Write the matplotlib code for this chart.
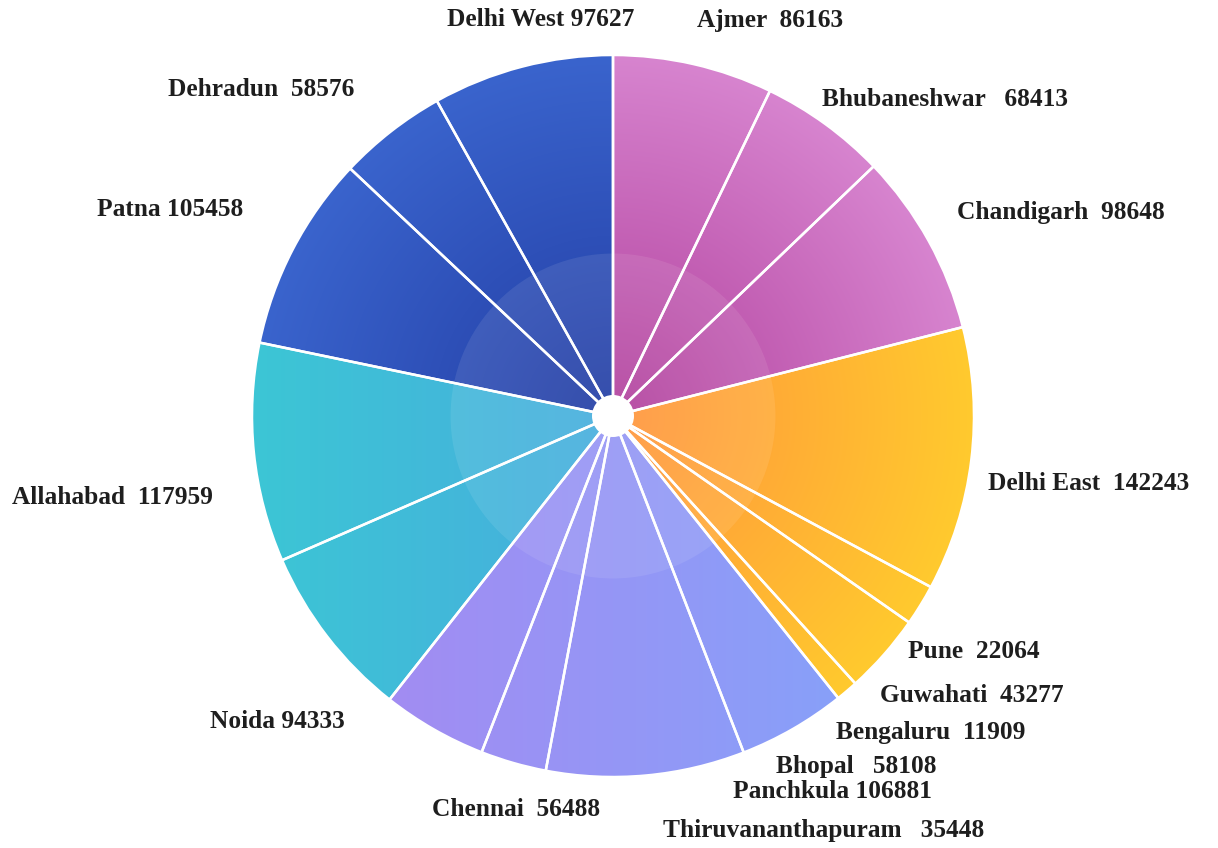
import numpy as np
import matplotlib.pyplot as plt
from matplotlib.colors import to_rgb
from matplotlib.patches import Circle

# city totals, clockwise from 12 o'clock
cities = ["Ajmer", "Bhubaneshwar", "Chandigarh", "Delhi East", "Pune", "Guwahati",
          "Bengaluru", "Bhopal", "Panchkula", "Thiruvananthapuram", "Chennai",
          "Noida", "Allahabad", "Patna", "Dehradun", "Delhi West"]
totals = [86163, 68413, 98648, 142243, 22064, 43277,
          11909, 58108, 106881, 35448, 56488,
          94333, 117959, 105458, 58576, 97627]
# colour family of each slice
family = ["pink", "pink", "pink", "orange", "orange", "orange",
          "orange", "lilac", "lilac", "lilac", "lilac",
          "cyan", "cyan", "blue", "blue", "blue"]

# gap between name and number, as laid out on the labels
gaps = [2, 3, 2, 2, 2, 2, 2, 3, 1, 3, 2, 1, 2, 1, 2, 1]
# label anchor (left edge, vertical centre) in pixels from the top-left corner
label_pos = [(697, 21), (822, 99), (957, 212), (988, 484), (908, 652), (880, 695),
             (836, 732), (776, 767), (733, 792), (663, 830), (432, 809),
             (210, 721), (12, 497), (97, 209), (168, 89), (447, 20)]

# gradient end points: (inner/left colour, outer/right colour, mode)
palette = {
    "pink":   ("#b13f9c", "#d784cf", "radial"),
    "orange": ("#ff933c", "#ffca2e", "radial"),
    "lilac":  ("#aa86f0", "#80a6fb", "horizontal"),
    "cyan":   ("#3cc6d5", "#5294e6", "horizontal"),
    "blue":   ("#223ca3", "#3a64cd", "radial"),
}

W, H = 1218, 848
cx, cy, R = 613, H - 416, 361

fig = plt.figure(figsize=(W / 100, H / 100), dpi=100)
ax = fig.add_axes([0, 0, 1, 1])

base = [palette[f][1] for f in family]
wedges, _ = ax.pie(totals, startangle=90, counterclock=False, center=(cx, cy),
                   radius=R, colors=base, wedgeprops=dict(linewidth=0))

# gradient fill for each slice, clipped to the wedge
n = 700
xs = np.linspace(cx - R, cx + R, n)
ys = np.linspace(cy - R, cy + R, n)
X, Y = np.meshgrid(xs, ys)
rr = np.clip(np.hypot(X - cx, Y - cy) / R, 0, 1)
hh = (X - (cx - R)) / (2 * R)

fills = {}
for name, (c1, c2, mode) in palette.items():
    t = rr if mode == "radial" else hh
    a, b = np.array(to_rgb(c1)), np.array(to_rgb(c2))
    fills[name] = a + (b - a) * t[..., None]

for w, f in zip(wedges, family):
    im = ax.imshow(fills[f], extent=(cx - R, cx + R, cy - R, cy + R),
                   origin="lower", interpolation="bilinear", zorder=2)
    im.set_clip_path(w)

# soft inner disc
ax.add_patch(Circle((cx, cy), 0.45 * R, facecolor="white", alpha=0.09,
                    linewidth=0, zorder=2.5))

# white separators
ax.pie(totals, startangle=90, counterclock=False, center=(cx, cy), radius=R,
       wedgeprops=dict(fill=False, edgecolor="white", linewidth=1.8, zorder=3))

# centre hole
ax.add_patch(Circle((cx, cy), 21, facecolor="white", linewidth=0, zorder=4))

for name, val, gap, (lx, ly) in zip(cities, totals, gaps, label_pos):
    ax.text(lx, H - ly, name + " " * gap + str(val), ha="left", va="center",
            fontsize=18.3, fontweight="bold", family="Liberation Serif",
            color="#1e1e1e", zorder=5)

ax.set_xlim(0, W)
ax.set_ylim(0, H)
ax.set_aspect("equal")
ax.axis("off")

fig.savefig("out.png", dpi=100, facecolor="white")
